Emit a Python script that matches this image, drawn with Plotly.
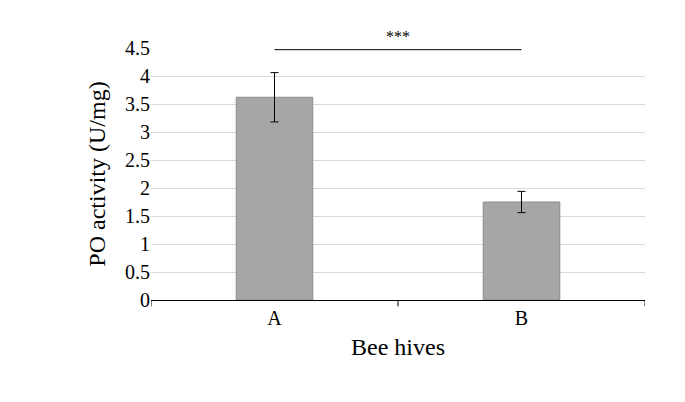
import plotly.graph_objects as go

hives = ["A", "B"]
activity = [3.62, 1.75]
err = [0.44, 0.19]
yticks = [0, 0.5, 1, 1.5, 2, 2.5, 3, 3.5, 4, 4.5]
ytick_labels = ["0", "0.5", "1", "1.5", "2", "2.5", "3", "3.5", "4", "4.5"]

fig = go.Figure()
fig.add_trace(go.Bar(
    x=[0, 1], y=activity, width=0.31,
    marker=dict(color="#a6a6a6", line=dict(color="#8c8c8c", width=1)),
    error_y=dict(type="data", array=err, color="black", thickness=1, width=4),
))

# significance bar
fig.add_shape(type="line", x0=0.0, x1=1.0, y0=4.47, y1=4.47,
              line=dict(color="black", width=1))
fig.add_annotation(x=0.5, y=4.5, text="***", showarrow=False, yshift=12,
                   font=dict(size=16, color="black"))

fig.update_layout(
    width=685, height=402, margin=dict(l=143, r=48, t=40, b=110),
    plot_bgcolor="white", paper_bgcolor="white", showlegend=False,
    font=dict(family="Liberation Serif", size=20, color="black"),
    xaxis=dict(range=[-0.5, 1.5], tickvals=[0, 1], ticktext=hives,
               showline=True, linecolor="black", ticks="", showgrid=False,
               title=dict(text="Bee hives", standoff=10)),
    yaxis=dict(range=[0, 4.5], tickvals=yticks, ticktext=ytick_labels,
               showgrid=True, gridcolor="#d9d9d9",
               zeroline=False, showline=False,
               title=dict(text="PO activity (U/mg)", standoff=12)),
)
# x-axis ticks at category boundaries
for xv in [-0.5, 0.5, 1.5]:
    fig.add_shape(type="line", xref="x", yref="paper", x0=xv, x1=xv, y0=0, y1=-0.025,
                  line=dict(color="black", width=1))
fig.write_html("out.html")
